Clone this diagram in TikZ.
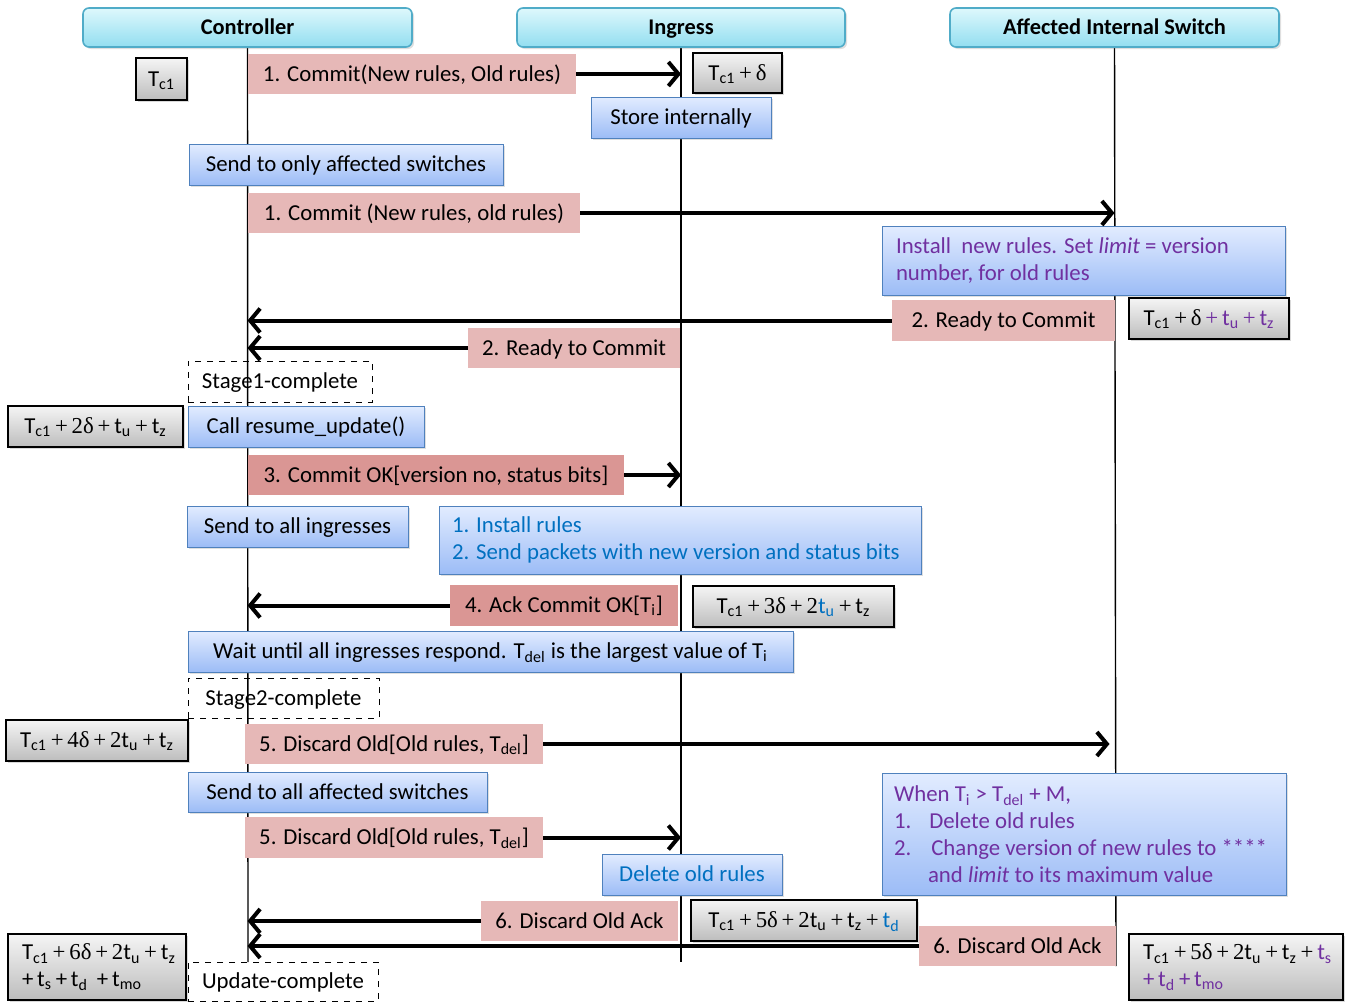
\documentclass[tikz,border=0pt]{standalone}
\usepackage{fontspec}
\setmainfont{Carlito}
\newfontfamily\tnr{Liberation Serif}
\usetikzlibrary{arrows.meta,shadows,calc}

\definecolor{msgpink}{RGB}{230,184,183}
\definecolor{msgred}{RGB}{218,150,148}
\definecolor{hdtop}{RGB}{222,248,252}
\definecolor{hdbot}{RGB}{146,222,240}
\definecolor{hdline}{RGB}{80,172,200}
\definecolor{bltop}{RGB}{226,236,255}
\definecolor{blbot}{RGB}{156,188,246}
\definecolor{blline}{RGB}{79,129,189}
\definecolor{vio}{RGB}{112,48,160}
\definecolor{blu}{RGB}{0,112,192}

\newcommand{\Tc}{T\textsubscript{c1}}
\newcommand{\pl}{{\tnr\,+\,}}
\newcommand{\dlt}{{\tnr δ}}
\newcommand{\ts}[1]{t\textsubscript{#1}}

\pgfdeclarelayer{bg}
\pgfsetlayers{bg,main}

\begin{document}
\begin{tikzpicture}[x=0.5pt,y=-0.5pt,
    every node/.style={font=\fontsize{11.4}{13.4}\selectfont, inner xsep=7pt, inner ysep=0pt},
    oneline/.style={text height=9.2pt, text depth=2.2pt},
    header/.style={rectangle, oneline, rounded corners=3pt, draw=hdline, thick, top color=hdtop, bottom color=hdbot,
        drop shadow={opacity=0.25, shadow xshift=1pt, shadow yshift=-1pt}, font=\fontsize{11.2}{13}\selectfont\bfseries},
    msg/.style={rectangle, oneline, fill=msgpink},
    msgdark/.style={rectangle, oneline, fill=msgred},
    notes/.style={rectangle, draw=blline, top color=bltop, bottom color=blbot, align=flush left,
        drop shadow={opacity=0.25, shadow xshift=1pt, shadow yshift=-1pt}},
    note/.style={notes, oneline},
    clocks/.style={rectangle, draw=black, thick, top color=white!96!black, bottom color=white!74!black,
        align=flush left, drop shadow={opacity=0.3, shadow xshift=1pt, shadow yshift=-1pt}},
    clock/.style={clocks, oneline},
    stage/.style={rectangle, oneline, draw=black, dashed},
    lifeline/.style={draw=black, line width=0.7pt},
    arr/.style={line width=2pt, -{Straight Barb[length=5pt,width=12pt,line width=2pt]}}]

    \useasboundingbox (0,0) rectangle (1352,1003);

    % the three parties
    \node [header, minimum width=164.5pt, minimum height=19.5pt] (ctrl) at (247.5,27.5) {Controller};
    \node [header, minimum width=164pt, minimum height=19.5pt] (ingr) at (681,27.5) {Ingress};
    \node [header, minimum width=164.5pt, minimum height=19.5pt] (swit) at (1114.5,27.5) {Affected Internal Switch};
    \coordinate (ctrlend) at (248,962);
    \coordinate (ingrend) at (681,962);
    \coordinate (switend) at (1116,966);

    % stage 1
    \node [clock, minimum width=25.5pt, minimum height=21pt, inner xsep=3pt] (t1) at (161.5,79) {\Tc};
    \node [msg, minimum width=164pt, minimum height=20pt] (m1) at (412,74) {1. Commit(New rules, Old rules)};
    \node [clock, minimum width=44.5pt, minimum height=20pt, inner xsep=3pt] (t2) at (737.5,73) {\Tc\pl\dlt};
    \node [note, minimum width=90pt, minimum height=20.5pt] (n1) at (681,117.5) {Store internally};
    \node [note, minimum width=157pt, minimum height=20.5pt] (n2) at (346,164.5) {Send to only affected switches};
    \node [msg, minimum width=166pt, minimum height=20pt] (m2) at (414,213) {1. Commit (New rules, old rules)};
    \node [notes, text width=187.5pt, minimum height=34.5pt, text=vio] (n3) at (1083.5,260.5)
        {Install\ \ new rules. Set \textit{limit} = version\\number, for old rules};
    \node [msg, minimum width=111.5pt, minimum height=20.5pt] (m3) at (1003.5,320.5) {2. Ready to Commit};
    \node [clock, minimum width=80pt, minimum height=20.5pt] (t3) at (1209,318.5)
        {\Tc\pl\dlt\textcolor{vio}{\pl\ts{u}\pl\ts{z}}};
    \node [msg, minimum width=106pt, minimum height=20pt] (m4) at (574,348) {2. Ready to Commit};
    \node [stage, minimum width=92pt, minimum height=20.5pt] (s1) at (280,381.5) {Stage1-complete};

    % stage 2
    \node [clock, minimum width=87.5pt, minimum height=20.5pt] (t4) at (95.5,426.5)
        {\Tc\pl{\tnr 2}\dlt\pl\ts{u}\pl\ts{z}};
    \node [note, minimum width=118pt, minimum height=20.5pt] (n4) at (306,426.5) {Call resume\_update()};
    \node [msgdark, minimum width=188pt, minimum height=20pt] (m5) at (436,475) {3. Commit OK[version no, status bits]};
    \node [note, minimum width=110.5pt, minimum height=20.5pt] (n5) at (297.5,526.5) {Send to all ingresses};
    \node [notes, text width=228pt, minimum height=34pt, text=blu, inner xsep=6.5pt] (n6) at (680,540)
        {1. Install rules\\2. Send packets with new version and status bits};
    \node [msgdark, minimum width=114pt, minimum height=20.5pt] (m6) at (564,605.5) {4. Ack Commit OK[T\textsubscript{i}]};
    \node [clock, minimum width=100.5pt, minimum height=20.5pt] (t5) at (793.5,606.5)
        {\Tc\pl{\tnr 3}\dlt\pl{\tnr 2}\textcolor{blu}{\ts{u}}\pl\ts{z}};
    \node [note, minimum width=302.5pt, minimum height=20.5pt] (n7) at (490.5,651.5)
        {Wait until all ingresses respond. T\textsubscript{del} is the largest value of T\textsubscript{i}};
    \node [stage, minimum width=95.5pt, minimum height=20pt] (s2) at (283.5,698) {Stage2-complete};

    % discard old rules
    \node [clock, minimum width=89pt, minimum height=20.5pt] (t6) at (97,740.5)
        {\Tc\pl{\tnr 4}\dlt\pl{\tnr 2}\ts{u}\pl\ts{z}};
    \node [msg, minimum width=148pt, minimum height=20pt] (m7) at (394,744) {5. Discard Old[Old rules, T\textsubscript{del}]};
    \node [note, minimum width=149.5pt, minimum height=20pt] (n8) at (337.5,792) {Send to all affected switches};
    \node [msg, minimum width=148pt, minimum height=20.5pt] (m8) at (394,837.5) {5. Discard Old[Old rules, T\textsubscript{del}]};
    \node [note, minimum width=90pt, minimum height=20.5pt, text=blu] (n9) at (692,874.5) {Delete old rules};
    \node [notes, text width=190pt, minimum height=61pt, text=vio, inner xsep=6pt] (n10) at (1084,834)
        {When T\textsubscript{i} > T\textsubscript{del} + M,\\
         1.\hspace{9pt}Delete old rules\\
         2.\hspace{10pt}Change version of new rules to ****\\
         \hspace{17pt}and \textit{limit} to its maximum value};
    \node [msg, minimum width=98.5pt, minimum height=20pt] (m9) at (579.5,921) {6. Discard Old Ack};
    \node [clock, minimum width=113pt, minimum height=20.5pt] (t7) at (804,920.5)
        {\Tc\pl{\tnr 5}\dlt\pl{\tnr 2}\ts{u}\pl\ts{z}\pl\textcolor{blu}{\ts{d}}};
    \node [msg, minimum width=97.5pt, minimum height=20pt] (m10) at (1017.5,946) {6. Discard Old Ack};
    \node [clocks, text width=75pt, minimum height=33pt] (t8) at (97,967)
        {\Tc\pl{\tnr 6}\dlt\pl{\tnr 2}\ts{u}\pl\ts{z}\\+\,\ts{s}\,+\,\ts{d}\ \,+\,\ts{mo}};
    \node [stage, minimum width=95pt, minimum height=19.5pt] (s3) at (283,981.5) {Update-complete};
    \node [clocks, text width=93pt, minimum height=33pt] (t9) at (1236,967)
        {\Tc\pl{\tnr 5}\dlt\pl{\tnr 2}\ts{u}\pl\ts{z}\pl\textcolor{vio}{\ts{s}}\\\textcolor{vio}{+\,\ts{d}\,+\,\ts{mo}}};

    % lifelines
    \begin{pgfonlayer}{bg}
        \draw [lifeline] (ctrl.south) -- (ctrlend);
        \draw [lifeline] (ingr.south) -- (ingrend);
        \draw [lifeline] (swit.south) -- (switend);
    \end{pgfonlayer}

    % messages
    \draw [arr] (m1.east) -- (ingr.south |- m1.east);
    \draw [arr] (m2.east) -- (swit.south |- m2.east);
    \draw [arr] (m3.west) -- (ctrl.south |- m3.west);
    \draw [arr] (m4.west) -- (ctrl.south |- m4.west);
    \draw [arr] (m5.east) -- (ingr.south |- m5.east);
    \draw [arr] (m6.west) -- (ctrl.south |- m6.west);
    \draw [arr] (m7.east) -- ([xshift=-2.5pt]swit.south |- m7.east);
    \draw [arr] (m8.east) -- (ingr.south |- m8.east);
    \draw [arr] (m9.west) -- (ctrl.south |- m9.west);
    \draw [arr] (m10.west) -- (ctrl.south |- m10.west);

\end{tikzpicture}
\end{document}
